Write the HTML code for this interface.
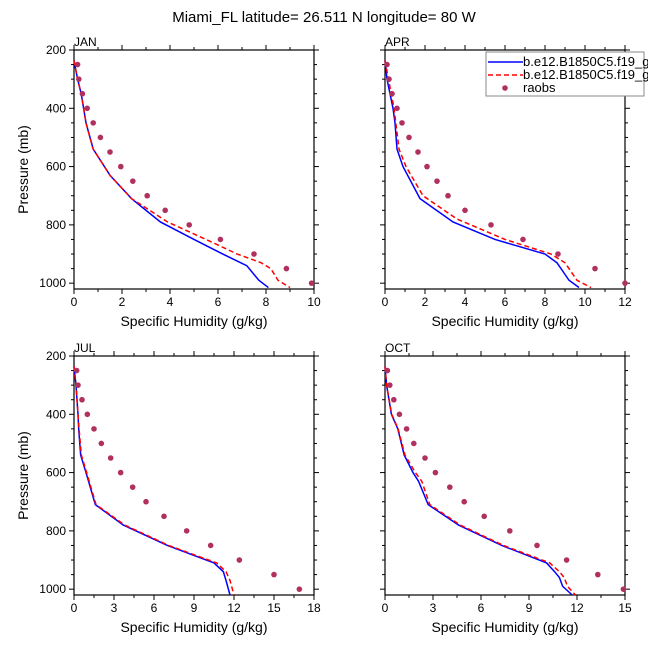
<!DOCTYPE html>
<html><head><meta charset="utf-8"><style>
body{margin:0;background:#fff}
svg{font-family:"Liberation Sans",sans-serif}
</style></head><body>
<svg id="c" width="648" height="648" xmlns="http://www.w3.org/2000/svg">
<text x="324" y="22" font-size="15" text-anchor="middle">Miami_FL  latitude= 26.511 N longitude= 80 W</text>
</svg>
<script>
const months=["JAN","APR","JUL","OCT"];
const xMaxes=[10,12,18,15];
const xSteps=[2,2,3,3];
const blueP=[[236,300,350,400,450,540,630,710,790,850,900,940,960,990,1015],
[236,300,400,450,540,600,710,790,850,900,930,960,990,1015],
[236,300,400,450,540,600,710,780,850,910,940,970,1020],
[236,300,400,450,540,600,630,710,780,850,910,940,960,990,1020]];
const blueQ=[[0,0.15,0.3,0.4,0.5,0.8,1.5,2.4,3.6,5,6.2,7.2,7.4,7.7,8.1],
[0,0.1,0.4,0.5,0.6,0.9,1.75,3.4,5.5,8.0,8.6,8.9,9.2,9.7],
[0,0.15,0.3,0.35,0.5,0.9,1.6,3.7,7.0,10.5,11.2,11.4,11.7],
[0,0.1,0.4,0.8,1.2,1.75,2.1,2.7,4.6,7.3,10.1,10.6,10.9,11.1,11.7]];
const redP=[[236,300,350,400,450,540,630,710,790,850,900,930,950,990,1015],
[236,400,540,600,700,780,850,900,930,960,990,1015],
[236,300,400,450,540,600,710,780,850,910,940,970,1020],
[236,300,400,450,540,600,630,710,780,850,910,940,960,990,1020]];
const redQ=[[0,0.15,0.3,0.4,0.5,0.8,1.5,2.4,3.9,5.5,6.8,7.8,8.2,8.5,9.0],
[0,0.45,0.7,1.05,1.9,3.6,6.0,8.3,9.0,9.3,9.6,10.3],
[0,0.15,0.3,0.38,0.55,0.95,1.65,3.8,7.1,10.7,11.4,11.7,12.0],
[0,0.1,0.42,0.82,1.25,1.9,2.3,2.8,4.7,7.4,10.3,10.9,11.2,11.4,11.9]];
const obsP=[250,300,350,400,450,500,550,600,650,700,750,800,850,900,950,1000];
const obsQ=[[0.15,0.2,0.35,0.55,0.8,1.1,1.5,1.95,2.45,3.05,3.8,4.8,6.1,7.5,8.85,9.9],
[0.1,0.2,0.35,0.6,0.85,1.2,1.65,2.1,2.6,3.15,4.0,5.3,6.9,8.65,10.5,12.0],
[0.2,0.3,0.6,1.0,1.5,2.05,2.75,3.5,4.4,5.4,6.75,8.45,10.25,12.4,15.0,16.9],
[0.15,0.3,0.55,0.9,1.35,1.8,2.5,3.15,4.05,4.95,6.2,7.8,9.5,11.35,13.3,14.9]];
const yTicks=[200,400,600,800,1000];
const NS="http://www.w3.org/2000/svg";
const svg=document.getElementById('c');
function mk(t,a,p){const e=document.createElementNS(NS,t);for(const k in a)e.setAttribute(k,a[k]);(p||svg).appendChild(e);return e;}
const lefts=[74,385,74,385],tops=[50,50,356,356],W=240,H=239;
for(let i=0;i<4;i++){
 const L=lefts[i],T=tops[i],xm=xMaxes[i];
 const g=mk('g',{});
 
 
 const sx=v=>L+v/xm*W, sy=p=>T+(p-200)/820*H;
 const fr=mk('rect',{x:L,y:T,width:W,height:H,fill:'none',stroke:'#000','stroke-width':1.2},g);
 
 
 const ml=mk('text',{x:L,y:T-4,'font-size':12},g);ml.textContent=months[i];
 
 
 const st=xSteps[i];
 for(let v=0;v<=xm+1e-9;v+=st/2){
  const major=Math.abs(v/st-Math.round(v/st))<1e-6, len=major?5:3, x=sx(v);
  mk('line',{x1:x,x2:x,y1:T+H,y2:T+H+len,stroke:'#000'},g);
  mk('line',{x1:x,x2:x,y1:T,y2:T-len,stroke:'#000'},g);
  if(major){const t=mk('text',{x:x,y:T+H+17,'font-size':12,'text-anchor':'middle'},g);t.textContent=v;
   }
 }
 for(let p=200;p<=1020;p+=50){
  const major=p%200===0,len=major?5:3,y=sy(p);
  mk('line',{x1:L,x2:L-len,y1:y,y2:y,stroke:'#000'},g);
  mk('line',{x1:L+W,x2:L+W+len,y1:y,y2:y,stroke:'#000'},g);
  if(major&&(i===0||i===2)){const t=mk('text',{x:L-8,y:y+4,'font-size':12,'text-anchor':'end'},g);t.textContent=p;
   }
 }
 const xt=mk('text',{x:L+W/2,y:T+H+37,'font-size':14,'text-anchor':'middle'},g);xt.textContent='Specific Humidity (g/kg)';
 
 if(i===0||i===2){const yt=mk('text',{x:0,y:0,'font-size':14,'text-anchor':'middle',transform:`translate(28,${T+H/2}) rotate(-90)`},g);yt.textContent='Pressure (mb)';
  }
 const bl=mk('polyline',{points:blueP[i].map((p,k)=>sx(blueQ[i][k])+','+sy(p)).join(' '),fill:'none',stroke:'#0000ff','stroke-width':1.5},g);
 
 const rl=mk('polyline',{points:redP[i].map((p,k)=>sx(redQ[i][k])+','+sy(p)).join(' '),fill:'none',stroke:'#ff0000','stroke-width':1.5,'stroke-dasharray':'5,3'},g);
 
 obsP.forEach((p,k)=>{const c=mk('circle',{cx:sx(obsQ[i][k]),cy:sy(p),r:2.8,fill:'#b03060'},g);
  });
}
const lg=mk('g',{});


mk('rect',{x:486,y:52,width:158,height:44,fill:'#fff',stroke:'#888','stroke-width':1},lg);
mk('line',{x1:488,x2:523,y1:62,y2:62,stroke:'#0000ff','stroke-width':1.5},lg);
mk('line',{x1:488,x2:523,y1:75,y2:75,stroke:'#ff0000','stroke-width':1.5,'stroke-dasharray':'5,3'},lg);
mk('circle',{cx:505,cy:88,r:2.8,fill:'#b03060'},lg);
[['b.e12.B1850C5.f19_g',66],['b.e12.B1850C5.f19_g',79],['raobs',92]].forEach(([s,y])=>{
 const t=mk('text',{x:523,y:y,'font-size':13},lg);t.textContent=s;
 });
</script>
</body></html>
